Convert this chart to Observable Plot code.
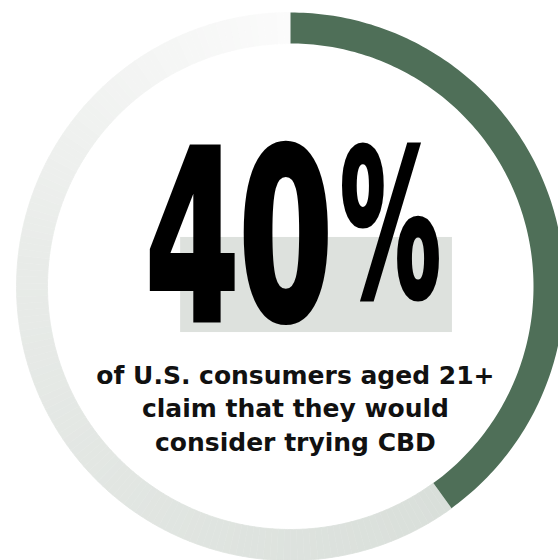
<!DOCTYPE html>
<html><head><meta charset="utf-8">
<script src="https://cdn.jsdelivr.net/npm/d3@7"></script>
<script src="https://cdn.jsdelivr.net/npm/@observablehq/plot@0.6"></script>
<style>body{margin:0;background:#fff;}</style>
</head><body><div id="chart"></div>
<script>
// ---- data ----
const shares = [40, 60];                       // % who would consider CBD, rest
const shareNames = ["would consider", "rest"];
const headlineNumber = "40";
const headlineSymbol = "%";
const captionLines = ["of U.S. consumers aged 21+", "claim that they would", "consider trying CBD"];

// ---- ring geometry (unit circle coordinates) ----
const R_OUT = 1, R_IN = 243 / 274;
const total = d3.sum(shares);
const endAngle = 2 * Math.PI * shares[0] / total;

function arcPoly(a0, a1, n, extra = {}) {
  const pts = [];
  for (let i = 0; i <= n; i++) { const a = a0 + (a1 - a0) * i / n; pts.push({x: R_OUT * Math.sin(a), y: R_OUT * Math.cos(a), ...extra}); }
  for (let i = n; i >= 0; i--) { const a = a0 + (a1 - a0) * i / n; pts.push({x: R_IN * Math.sin(a), y: R_IN * Math.cos(a), ...extra}); }
  return pts;
}
const greenPoly = arcPoly(0, endAngle, 160, {name: shareNames[0]});
const NSEG = 150;
const grayPolys = [];
for (let k = 0; k < NSEG; k++) {
  const a0 = endAngle + (2 * Math.PI - endAngle) * k / NSEG;
  const a1 = endAngle + (2 * Math.PI - endAngle) * (k + 1) / NSEG;
  arcPoly(a0, a1, 2, {seg: k, t: (k + 0.5) / NSEG, name: shareNames[1]}).forEach(p => grayPolys.push(p));
}
const box = [{x1: -0.401, x2: 0.591, y1: 0.179, y2: -0.168}];

const chart = Plot.plot({
  width: 558, height: 560, margin: 0,
  style: {background: "#fff", overflow: "visible"},
  x: {domain: [-1, 1], range: [16, 564], axis: null},
  y: {domain: [-1, 1], range: [560, 12], axis: null},
  color: {type: "linear", domain: [0, 0.6, 1], range: ["#d9dfda", "#e8ebe8", "#fbfbfb"]},
  marks: [
    Plot.line(grayPolys, {x: "x", y: "y", z: "seg", fill: "t", stroke: "t", strokeWidth: 0.8}),
    Plot.line(greenPoly, {x: "x", y: "y", fill: "#4f6f58", stroke: "none"}),
    Plot.rect(box, {x1: "x1", x2: "x2", y1: "y1", y2: "y2", fill: "#dde1dd"}),
    Plot.text([headlineNumber], {x: -0.188, y: -0.120, text: d => d, fontFamily: "DejaVu Sans", fontWeight: 700,
      fontSize: 235, textAnchor: "middle", lineAnchor: "bottom", fill: "#000", stroke: "#000", strokeWidth: 6, strokeLinejoin: "miter"}),
    Plot.text([headlineSymbol], {x: 0.365, y: -0.035, text: d => d, fontFamily: "DejaVu Sans", fontWeight: 700,
      fontSize: 203, textAnchor: "middle", lineAnchor: "bottom", fill: "#000", stroke: "#000", strokeWidth: 5, strokeLinejoin: "miter"}),
    Plot.text([captionLines.join("\n")], {x: 0.018, y: -0.599, text: d => d, fontFamily: "DejaVu Sans", fontWeight: 700,
      fontSize: 25, lineHeight: 1.34, textAnchor: "middle", lineAnchor: "bottom", fill: "#111"})
  ]
});

chart.querySelectorAll("text").forEach(t => {
  if (t.textContent === headlineNumber) { t.setAttribute("textLength", 187); t.setAttribute("lengthAdjust", "spacingAndGlyphs"); }
  if (t.textContent === headlineSymbol) { t.setAttribute("textLength", 101); t.setAttribute("lengthAdjust", "spacingAndGlyphs"); }
});
document.getElementById("chart").append(chart);
</script>
</body></html>
